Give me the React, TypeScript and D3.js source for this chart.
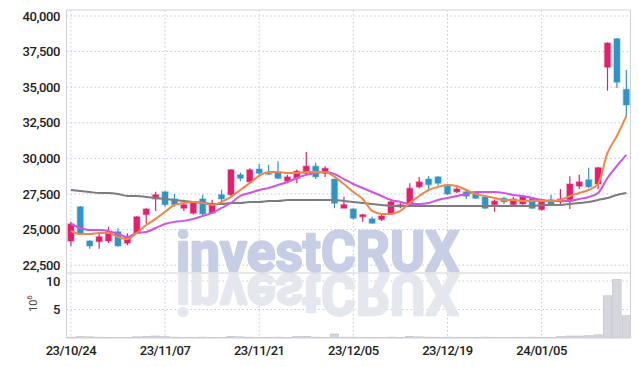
import React from 'react';
import * as d3 from 'd3';

// trading days shown (yy/mm/dd)
const dates = [
  '23/10/24', '23/10/25', '23/10/26', '23/10/27', '23/10/30', '23/10/31', '23/11/01', '23/11/02', '23/11/03', '23/11/06',
  '23/11/07', '23/11/08', '23/11/09', '23/11/10', '23/11/13', '23/11/14', '23/11/15', '23/11/16', '23/11/17', '23/11/20',
  '23/11/21', '23/11/22', '23/11/23', '23/11/24', '23/11/27', '23/11/28', '23/11/29', '23/11/30', '23/12/01', '23/12/04',
  '23/12/05', '23/12/06', '23/12/07', '23/12/08', '23/12/11', '23/12/12', '23/12/13', '23/12/14', '23/12/15', '23/12/18',
  '23/12/19', '23/12/20', '23/12/21', '23/12/22', '23/12/26', '23/12/27', '23/12/28', '24/01/02', '24/01/03', '24/01/04',
  '24/01/05', '24/01/08', '24/01/09', '24/01/10', '24/01/11', '24/01/12', '24/01/15', '24/01/16', '24/01/17', '24/01/18'
];

const open = [
  24200, 26600, 24200, 24150, 24200, 24850, 24050, 24750, 26050, 27150,
  27650, 27150, 26500, 26150, 27150, 26150, 27450, 27450, 28850, 28350,
  29250, 28950, 29050, 28400, 28600, 28950, 29450, 28950, 28550, 26500,
  26450, 25900, 25750, 25700, 26100, 26600, 26750, 28000, 28550, 28700,
  28050, 27650, 27650, 27550, 27300, 26750, 27200, 26750, 26800, 27200,
  26400, 27100, 26950, 27100, 28050, 28500, 28200, 36400, 38400, 34850
];
const close = [
  25400, 24750, 23850, 24500, 24850, 23850, 24500, 25900, 26450, 27450,
  26750, 26750, 26750, 26950, 26100, 26750, 27150, 29200, 28600, 29200,
  28950, 28900, 28600, 28700, 29100, 29450, 28700, 29300, 26850, 26750,
  25800, 26050, 25450, 25950, 26950, 26750, 27900, 28350, 28150, 28250,
  27500, 27850, 27350, 27200, 26500, 27000, 26950, 27150, 27350, 26500,
  27100, 26750, 27150, 28200, 28350, 28000, 29350, 38100, 35350, 33750
];
const high = [
  25550, 26650, 24250, 24750, 25200, 25100, 24750, 25950, 26500, 27650,
  27700, 27500, 27100, 27000, 27450, 27100, 27800, 29250, 29000, 29300,
  29600, 29550, 29800, 28850, 29200, 30450, 29700, 29450, 28550, 27300,
  26500, 26100, 25900, 26100, 27000, 26850, 28250, 28700, 28750, 28750,
  28100, 28050, 27850, 27550, 27300, 27100, 27300, 27300, 27400, 27300,
  27150, 27450, 27850, 28750, 28850, 29350, 29400, 38150, 38450, 36200
];
const low = [
  23850, 24700, 23650, 23650, 24050, 23800, 23900, 24700, 25400, 26300,
  26600, 26600, 26300, 26050, 25900, 26100, 26850, 27350, 28400, 28250,
  28850, 28850, 28550, 28250, 28250, 28900, 28550, 28700, 26500, 26500,
  25700, 25550, 25400, 25600, 26050, 26500, 26650, 27900, 27850, 28100,
  27450, 27550, 27150, 27150, 26450, 26250, 26800, 26600, 26750, 26450,
  26350, 26650, 26800, 26450, 27850, 27900, 27850, 34750, 34950, 32900
];

// moving averages
const maShort = [
  24900, 24690, 24690, 24760, 24760, 24480, 24340, 24760, 25320, 25750,
  26240, 26730, 26870, 26940, 26870, 26730, 26940, 27290, 27780, 28270,
  28770, 29050, 29050, 28980, 28980, 29050, 29050, 29050, 28700, 28200,
  27640, 27150, 26310, 26100, 26100, 26310, 26870, 27360, 27780, 27990,
  28130, 28060, 27780, 27500, 27360, 27220, 27080, 27080, 27010, 27010,
  27010, 27010, 27080, 27360, 27570, 27780, 28200, 30380, 31570, 32980
];
const maMid = [
  25390, 25110, 24970, 24970, 24900, 24690, 24480, 24760, 24830, 25110,
  25390, 25540, 25610, 25750, 25960, 26170, 26520, 26870, 27360, 27570,
  27780, 27920, 28130, 28340, 28620, 28840, 28980, 29050, 28900, 28550,
  28200, 27920, 27640, 27360, 27080, 26940, 26800, 26800, 26870, 27080,
  27220, 27360, 27500, 27640, 27640, 27640, 27570, 27430, 27360, 27220,
  27080, 27010, 27010, 27010, 27150, 27290, 27570, 28620, 29470, 30240
];
const maLong = [
  27780, 27710, 27640, 27570, 27570, 27500, 27360, 27360, 27290, 27220,
  27150, 27080, 27010, 26940, 26870, 26800, 26800, 26870, 26870, 26940,
  26940, 27010, 27010, 27080, 27080, 27080, 27080, 27080, 27080, 27010,
  26940, 26870, 26800, 26730, 26660, 26660, 26660, 26660, 26660, 26660,
  26660, 26660, 26660, 26660, 26660, 26660, 26660, 26660, 26660, 26660,
  26730, 26730, 26730, 26800, 26870, 26940, 27080, 27220, 27430, 27570
];

// volume, millions
const volume = [
  0.15, 0.25, 0.2, 0.15, 0.1, 0.12, 0.1, 0.2, 0.3, 0.35,
  0.25, 0.15, 0.1, 0.1, 0.15, 0.1, 0.1, 0.3, 0.2, 0.15,
  0.1, 0.1, 0.15, 0.1, 0.25, 0.3, 0.15, 0.1, 0.7, 0.15,
  0.15, 0.1, 0.1, 0.1, 0.15, 0.1, 0.3, 0.2, 0.15, 0.1,
  0.15, 0.1, 0.1, 0.1, 0.15, 0.1, 0.1, 0.1, 0.1, 0.15,
  0.1, 0.1, 0.25, 0.35, 0.35, 0.4, 0.55, 7.4, 10.3, 3.9
];

const priceTicks = [22500, 25000, 27500, 30000, 32500, 35000, 37500, 40000];
const volTicks = [5, 10];
const labelEvery = 10;

const UP = '#e61e6c';
const DOWN = '#2f95c9';
const GRID = '#c4c8dc';
const FONT = 'Roboto, "Liberation Sans", sans-serif';

export default function App() {
  const left = 66.5;
  const right = 630.5;
  const top = 10;
  const split = 273;
  const bottom = 338;

  const x = d3
    .scaleBand<number>()
    .domain(d3.range(dates.length))
    .range([left - 0.3, left - 0.3 + 9.414 * dates.length]);
  const cx = (i: number) => (x(i) as number) + x.bandwidth() / 2;
  const y = d3.scaleLinear().domain([21950, 40420]).range([split, top]);
  const yv = d3.scaleLinear().domain([0, 11.4]).range([bottom, split]);

  const fmt = d3.format(',');
  const bodyW = x.bandwidth() * 0.64;

  const mkLine = (vals: number[]) =>
    d3
      .line<number>()
      .x((d, i) => cx(i))
      .y(d => y(d))
      .curve(d3.curveMonotoneX)(vals) as string;

  const labelIdx = d3.range(0, dates.length, labelEvery);

  const wm = {
    x: 176,
    y: 271,
    fontFamily: 'Roboto, sans-serif',
    fontWeight: 700,
    fontSize: 56,
    textLength: 283,
    lengthAdjust: 'spacingAndGlyphs',
    strokeWidth: 2.4,
    strokeLinejoin: 'round' as const
  };

  return (
    <svg
      width={639}
      height={367}
      style={{ position: 'absolute', left: 0, top: 0, background: '#fff' }}
    >
      <defs>
        <clipPath id="volClip">
          <rect x={left} y={split} width={right - left} height={bottom - split} />
        </clipPath>
        <clipPath id="priceClip">
          <rect x={left} y={top} width={right - left} height={split - top} />
        </clipPath>
      </defs>

      {/* grid */}
      {priceTicks.map(t => (
        <line key={'g' + t} x1={left} x2={right} y1={y(t)} y2={y(t)}
          stroke={GRID} strokeDasharray="1.5,2.5" />
      ))}
      {volTicks.map(t => (
        <line key={'gv' + t} x1={left} x2={right} y1={yv(t)} y2={yv(t)}
          stroke={GRID} strokeDasharray="1.5,2.5" />
      ))}
      {labelIdx.map(i => (
        <line key={'gx' + i} x1={cx(i)} x2={cx(i)} y1={top} y2={bottom}
          stroke={GRID} strokeDasharray="1.5,2.5" />
      ))}

      {/* watermark + reflection */}
      <g clipPath="url(#priceClip)">
        <text {...wm} fill="#c8cee5" stroke="#c8cee5">investCRUX</text>
      </g>
      <g clipPath="url(#volClip)">
        <g transform={`translate(0,${2 * split}) scale(1,-1)`}>
          <text {...wm} fill="#e5e7ef" stroke="#e5e7ef">investCRUX</text>
        </g>
      </g>

      {/* volume */}
      <g clipPath="url(#volClip)">
        {volume.map((v, i) => (
          <rect key={'v' + i} x={(x(i) as number) + 0.5} width={x.bandwidth() - 1}
            y={yv(v)} height={bottom - yv(v)} fill="#d6d6de" stroke="#bcbcc6" strokeWidth={0.6} />
        ))}
      </g>

      {/* candles */}
      <g clipPath="url(#priceClip)">
        {dates.map((d, i) => {
          const up = close[i] >= open[i];
          const c = up ? UP : DOWN;
          const yTop = y(Math.max(open[i], close[i]));
          const yBot = y(Math.min(open[i], close[i]));
          return (
            <g key={'c' + i}>
              <line x1={cx(i)} x2={cx(i)} y1={y(high[i])} y2={y(low[i])} stroke={c} strokeWidth={1.2} />
              <rect x={cx(i) - bodyW / 2} width={bodyW} y={yTop} height={Math.max(1, yBot - yTop)}
                fill={c} stroke={c} strokeOpacity={0.3} strokeWidth={1.6} />
            </g>
          );
        })}
        <path d={mkLine(maLong)} fill="none" stroke="#7c7c7c" strokeWidth={2} />
        <path d={mkLine(maMid)} fill="none" stroke="#cc55e6" strokeWidth={2} />
        <path d={mkLine(maShort)} fill="none" stroke="#ef8748" strokeWidth={2} />
      </g>

      {/* frame */}
      <g stroke="#cfd0d9" fill="none">
        <line x1={left} x2={right} y1={top} y2={top} />
        <line x1={left} x2={right} y1={split} y2={split} />
        <line x1={left} x2={right} y1={bottom} y2={bottom} />
        <line x1={left} x2={left} y1={top} y2={bottom} />
        <line x1={right} x2={right} y1={top} y2={bottom} />
      </g>

      {/* axes labels */}
      {priceTicks.map(t => (
        <text key={'t' + t} x={60} y={y(t)} dy="0.35em" textAnchor="end"
          fontFamily={FONT} fontSize={13} fontWeight={500} fill="#222" letterSpacing={-0.4}>
          {fmt(t)}
        </text>
      ))}
      {volTicks.map(t => (
        <text key={'tv' + t} x={60} y={yv(t)} dy="0.35em" textAnchor="end"
          fontFamily={FONT} fontSize={13} fontWeight={500} fill="#222" letterSpacing={-0.4}>
          {t}
        </text>
      ))}
      <text transform="translate(37,312) rotate(-90)" fontFamily={FONT} fontSize={11} fill="#444">
        10<tspan dy={-5} fontSize={8}>6</tspan>
      </text>
      {labelIdx.map(i => (
        <text key={'xl' + i} x={cx(i)} y={350} dy="0.35em" textAnchor="middle"
          fontFamily={FONT} fontSize={13} fontWeight={500} fill="#222" letterSpacing={-0.5}>
          {dates[i]}
        </text>
      ))}
    </svg>
  );
}
